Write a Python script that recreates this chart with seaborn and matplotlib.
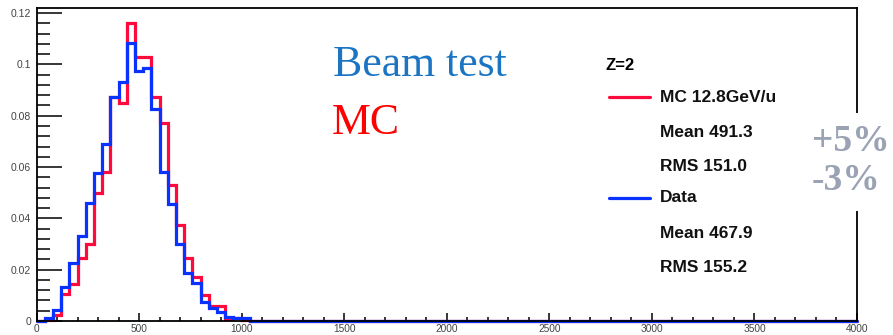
import numpy as np
import pandas as pd
import matplotlib
matplotlib.use("Agg")
import matplotlib.pyplot as plt
import seaborn as sns
from matplotlib.patches import Rectangle
from matplotlib.lines import Line2D
from matplotlib.ticker import MultipleLocator, FixedLocator, FixedFormatter

# Energy-deposit spectrum, Z=2, normalised bin contents (40-unit bins from 0)
bin_width = 40
n_bins = 100
bin_low = [0, 40, 80, 120, 160, 200, 240, 280, 320, 360, 400, 440, 480, 520,
           560, 600, 640, 680, 720, 760, 800, 840, 880, 920, 960, 1000, 1040]
mc_content = [0.0, 0.0005, 0.0023, 0.0104, 0.0143, 0.0247, 0.0299, 0.0497,
              0.0579, 0.0874, 0.0848, 0.1162, 0.1030, 0.1030, 0.0874, 0.0773,
              0.0530, 0.0374, 0.0247, 0.0173, 0.0101, 0.0058, 0.0058, 0.0006,
              0.0010, 0.0003, 0.0]
data_content = [0.0, 0.0010, 0.0043, 0.0131, 0.0225, 0.0331, 0.0461, 0.0575,
                0.0690, 0.0875, 0.0932, 0.1084, 0.0973, 0.0987, 0.0826, 0.0580,
                0.0455, 0.0299, 0.0188, 0.0147, 0.0074, 0.0049, 0.0034, 0.0015,
                0.0010, 0.0010, 0.0]

x_ticks = [0, 500, 1000, 1500, 2000, 2500, 3000, 3500, 4000]
x_tick_labels = ["0", "500", "1000", "1500", "2000", "2500", "3000", "3500", "4000"]
y_ticks = [0, 0.02, 0.04, 0.06, 0.08, 0.1, 0.12]
y_tick_labels = ["0", "0.02", "0.04", "0.06", "0.08", "0.1", "0.12"]

mc_legend = ["MC 12.8GeV/u", "Mean 491.3", "RMS 151.0"]
data_legend = ["Data", "Mean 467.9", "RMS 155.2"]

RED = "#FF0a3c"
BLUE = "#0a32FF"

sns.set_theme(style="white")
plt.rcParams["font.family"] = ["Liberation Sans", "DejaVu Sans"]

W, H = 893, 335
fig = plt.figure(figsize=(W / 100, H / 100), dpi=100)
fig.patch.set_facecolor("white")


def fx(x):
    return x / W


def fy(y):
    return 1 - y / H


ax = fig.add_axes([fx(36.5), fy(321), fx(857) - fx(36.5), fy(8) - fy(321)])
ax.set_facecolor("white")

centers = np.array(bin_low, dtype=float) + bin_width / 2
mc_df = pd.DataFrame({"center": centers, "content": mc_content})
data_df = pd.DataFrame({"center": centers, "content": data_content})
sns.histplot(data=mc_df, x="center", weights="content", bins=n_bins,
             binrange=(0, 4000), element="step", fill=False, color=RED,
             linewidth=2.3, ax=ax)
sns.histplot(data=data_df, x="center", weights="content", bins=n_bins,
             binrange=(0, 4000), element="step", fill=False, color=BLUE,
             linewidth=2.3, ax=ax)
for ln in ax.lines:
    ln.set_clip_on(False)
    ln.set_solid_joinstyle("miter")

ax.set_xlim(0, 4000)
ax.set_ylim(0, 0.122)
ax.set_xlabel("")
ax.set_ylabel("")

ax.xaxis.set_major_locator(FixedLocator(x_ticks))
ax.xaxis.set_major_formatter(FixedFormatter(x_tick_labels))
ax.xaxis.set_minor_locator(MultipleLocator(100))
ax.yaxis.set_major_locator(FixedLocator(y_ticks))
ax.yaxis.set_major_formatter(FixedFormatter(y_tick_labels))
ax.yaxis.set_minor_locator(MultipleLocator(0.004))

ax.tick_params(axis="y", which="major", direction="in", length=18, width=1.1,
               color="black", labelsize=7.5, labelcolor="#444444", pad=4,
               left=True, right=False)
ax.tick_params(axis="y", which="minor", direction="in", length=9, width=1.1,
               color="black", left=True, right=False)
ax.tick_params(axis="x", which="major", direction="in", length=5.8, width=1.1,
               color="black", labelsize=7.3, labelcolor="#444444", pad=2.5,
               bottom=True, top=False)
ax.tick_params(axis="x", which="minor", direction="in", length=2.9, width=1.1,
               color="black", bottom=True, top=False)

for side in ["left", "right", "top", "bottom"]:
    ax.spines[side].set_visible(True)
    ax.spines[side].set_color("black")
    ax.spines[side].set_linewidth(1.3)

# Statistics legend
fig.text(fx(606), fy(65), "Z=2", fontsize=12, fontweight="bold",
         color="black", ha="left", va="center")
rows_y = [97, 132, 167, 198, 233, 268]
fig.add_artist(Line2D([fx(609), fx(650)], [fy(rows_y[0]), fy(rows_y[0])],
                      color=RED, linewidth=2.3, transform=fig.transFigure))
fig.add_artist(Line2D([fx(609), fx(650)], [fy(rows_y[3]), fy(rows_y[3])],
                      color=BLUE, linewidth=2.3, transform=fig.transFigure))
for txt, yy in zip(mc_legend + data_legend, rows_y):
    fig.text(fx(660), fy(yy), txt, fontsize=12.5, fontweight="bold",
             color="#111111", ha="left", va="center")

# Sample labels
serif = ["Liberation Serif", "DejaVu Serif"]
fig.text(fx(333), fy(76), "Beam test", fontsize=31.5, color="#1b75c2",
         family=serif, ha="left", va="baseline")
fig.text(fx(332), fy(134), "MC", fontsize=31.5, color="#ff0000",
         family=serif, ha="left", va="baseline")

# Energy scale uncertainty
fig.add_artist(Rectangle((fx(806), fy(211)), fx(893) - fx(806), fy(113) - fy(211),
                         transform=fig.transFigure, facecolor="white",
                         edgecolor="none", zorder=5))
fig.text(fx(812), fy(151), "+5%", fontsize=27, color="#9aa2b4", family=serif,
         fontweight="bold", ha="left", va="baseline", zorder=6)
fig.text(fx(812), fy(190), "-3%", fontsize=27, color="#9aa2b4", family=serif,
         fontweight="bold", ha="left", va="baseline", zorder=6)

fig.savefig("out.png", dpi=100)
